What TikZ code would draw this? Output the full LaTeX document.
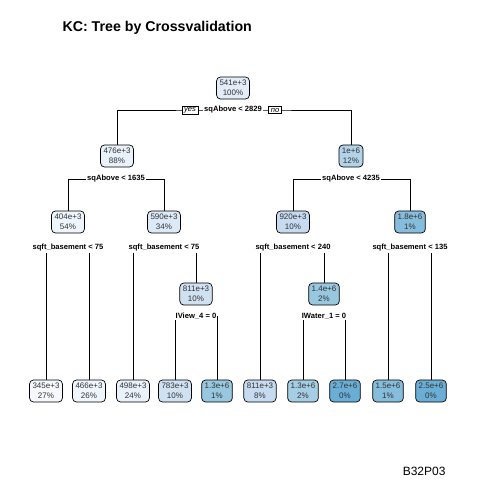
\documentclass[tikz,border=0pt]{standalone}
\usepackage{xcolor}
\usepackage{fontspec}
\setmainfont{Liberation Sans}
\usepackage{tikz}
\usetikzlibrary{positioning, calc, backgrounds}
\definecolor{bluea}{HTML}{F5F9FE}
\definecolor{blueb}{HTML}{EFF5FC}
\definecolor{bluec}{HTML}{E9F1FA}
\definecolor{blued}{HTML}{E3EDF8}
\definecolor{bluee}{HTML}{DCE9F6}
\definecolor{bluef}{HTML}{D0E1F2}
\definecolor{blueg}{HTML}{C6DBEF}
\definecolor{blueh}{HTML}{B3D3E8}
\definecolor{bluei}{HTML}{A5CDE3}
\definecolor{bluej}{HTML}{98C7E0}
\definecolor{bluek}{HTML}{86BCDC}
\definecolor{bluel}{HTML}{6AAED6}
\newcommand{\nodetext}{black!80}

\begin{document}
\begin{tikzpicture}[x=1pt, y=-1pt]
	\tikzstyle{treec}=[draw=black, line width=0.7pt, rounded corners=4pt, align=center,
		inner xsep=3pt, inner ysep=3.2pt, text=\nodetext, font=\fontsize{8}{10}\selectfont]
	\tikzstyle{splitc}=[fill=white, inner sep=1pt, font=\fontsize{7.6}{9}\selectfont\bfseries]
	\tikzstyle{ync}=[draw=black, fill=white, line width=0.6pt, inner xsep=2.2pt, inner ysep=1.2pt,
		font=\fontsize{7.6}{8}\selectfont\itshape]
	\useasboundingbox (0,0) rectangle (480,480);
	\node[anchor=base west, font=\fontsize{14.2}{16}\selectfont\bfseries] (title) at (59,31) {KC: Tree by Crossvalidation};
	\node[anchor=base east, font=\fontsize{12}{14}\selectfont] (tag) at (449,475) {B32P03};

	% inner nodes
	\node (n1) at (233,88) [treec, fill=blued]{541e+3\\100\%};
	\node (n2) at (117,156) [treec, fill=bluec]{476e+3\\88\%};
	\node (n3) at (351,156) [treec, fill=blueh]{1e+6\\12\%};
	\node (n4) at (68,222) [treec, fill=blueb]{404e+3\\54\%};
	\node (n5) at (164,222) [treec, fill=bluee]{590e+3\\34\%};
	\node (n6) at (293,222) [treec, fill=blueg]{920e+3\\10\%};
	\node (n7) at (410,222) [treec, fill=bluek]{1.8e+6\\1\%};
	\node (n11) at (196,294) [treec, fill=bluef]{811e+3\\10\%};
	\node (n13) at (324,294) [treec, fill=bluej]{1.4e+6\\2\%};

	% leaves
	\node (n8) at (46,391) [treec, fill=bluea]{345e+3\\27\%};
	\node (n9) at (89,391) [treec, fill=blueb]{466e+3\\26\%};
	\node (n10) at (133,391) [treec, fill=bluec]{498e+3\\24\%};
	\node (n22) at (175,391) [treec, fill=bluef]{783e+3\\10\%};
	\node (n23) at (217,391) [treec, fill=bluej]{1.3e+6\\1\%};
	\node (n12) at (260,391) [treec, fill=blueg]{811e+3\\8\%};
	\node (n26) at (303,391) [treec, fill=bluei]{1.3e+6\\2\%};
	\node (n27) at (345,391) [treec, fill=bluel]{2.7e+6\\0\%};
	\node (n14) at (388,391) [treec, fill=bluek]{1.5e+6\\1\%};
	\node (n15) at (431,391) [treec, fill=bluel]{2.5e+6\\0\%};

	% split labels
	\node (s1) at (233,110) [splitc]{sqAbove < 2829};
	\node (yes) at (190,110) [ync]{yes};
	\node (no) at (275,110) [ync]{no};
	\node (s2) at (116,179) [splitc]{sqAbove < 1635};
	\node (s3) at (351,179) [splitc]{sqAbove < 4235};
	\node (s4) at (68,248) [splitc]{sqft\_basement < 75};
	\node (s5) at (164,248) [splitc]{sqft\_basement < 75};
	\node (s6) at (293,248) [splitc]{sqft\_basement < 240};
	\node (s7) at (410,248) [splitc]{sqft\_basement < 135};
	\node (s11) at (196,316) [splitc]{IView\_4 = 0};
	\node (s13) at (324,316) [splitc]{IWater\_1 = 0};

	\begin{pgfonlayer}{background}
	\draw[line width=0.7pt] (n2.north) |- (s1.center) -| (n3.north);
	\draw[line width=0.7pt] (n4.north) |- (s2.center) -| (n5.north);
	\draw[line width=0.7pt] (n6.north) |- (s3.center) -| (n7.north);
	\draw[line width=0.7pt] (n8.north) |- (s4.center) -| (n9.north);
	\draw[line width=0.7pt] (n10.north) |- (s5.center) -| (n11.north);
	\draw[line width=0.7pt] (n12.north) |- (s6.center) -| (n13.north);
	\draw[line width=0.7pt] (n14.north) |- (s7.center) -| (n15.north);
	\draw[line width=0.7pt] (n22.north) |- (s11.center) -| (n23.north);
	\draw[line width=0.7pt] (n26.north) |- (s13.center) -| (n27.north);
	\end{pgfonlayer}
\end{tikzpicture}
\end{document}
